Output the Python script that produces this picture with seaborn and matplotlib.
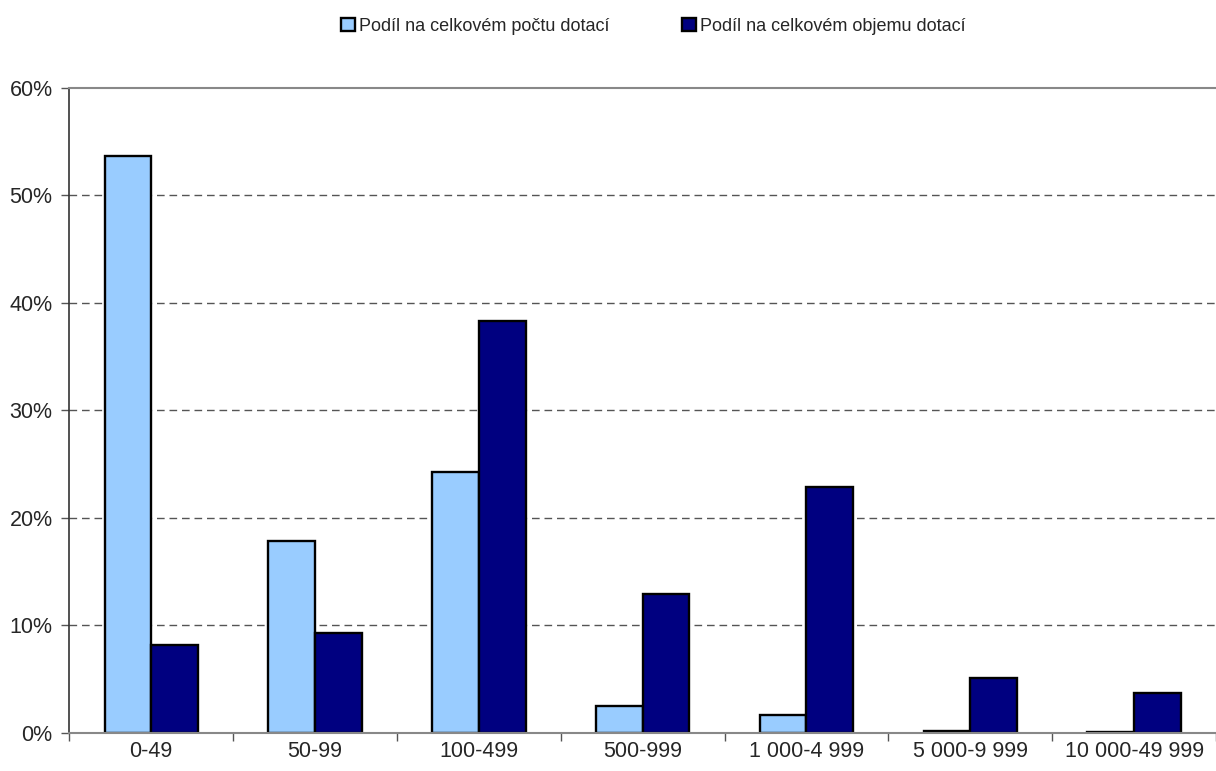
import matplotlib.pyplot as plt
import matplotlib.ticker as mtick
import seaborn as sns
import pandas as pd
import numpy as np

categories = ['0-49', '50-99', '100-499', '500-999', '1 000-4 999', '5 000-9 999', '10 000-49 999']
share_count = [0.537, 0.179, 0.243, 0.025, 0.017, 0.002, 0.001]
share_volume = [0.082, 0.093, 0.383, 0.129, 0.229, 0.051, 0.037]
series_names = ['Podíl na celkovém počtu dotací', 'Podíl na celkovém objemu dotací']
colors = ['#99CCFF', '#000080']

df = pd.DataFrame({
    'kategorie': categories * 2,
    'podil': share_count + share_volume,
    'serie': [series_names[0]] * len(categories) + [series_names[1]] * len(categories),
})

sns.set_style('white')
plt.rcParams['font.family'] = ['Liberation Sans', 'DejaVu Sans']

fig = plt.figure(figsize=(12.16, 7.71), dpi=100)
ax = fig.add_axes([0.057, 0.0493, 0.943, 0.8367])

sns.barplot(data=df, x='kategorie', y='podil', hue='serie', palette=colors, saturation=1,
            width=0.57, edgecolor='black', linewidth=1.7, ax=ax, legend=True)

ax.set_ylim(0, 0.6)
ax.set_xlim(-0.5, len(categories) - 0.5)
ax.yaxis.set_major_locator(mtick.MultipleLocator(0.1))
ax.yaxis.set_major_formatter(mtick.PercentFormatter(1.0, decimals=0))
for v in np.arange(0.1, 0.55, 0.1):
    ax.axhline(v, color='#555555', lw=1, ls=(0, (5.5, 3.5)), zorder=0)

ax.set_xlabel('')
ax.set_ylabel('')
ax.set_xticks(np.arange(-0.5, len(categories), 1.0), minor=True)
ax.tick_params(axis='x', which='major', length=0, pad=6, labelsize=15.5)
ax.tick_params(axis='x', which='minor', length=6, width=1, color='#555555', direction='out')
ax.tick_params(axis='y', length=6, width=1, color='#555555', direction='out', pad=6, labelsize=15.5)
ax.tick_params(bottom=True, left=True, which='both')

for side in ['top', 'bottom']:
    ax.spines[side].set_color('#888888')
    ax.spines[side].set_linewidth(1.5)
ax.spines['left'].set_color('#333333')
ax.spines['left'].set_linewidth(1.2)
ax.spines['right'].set_visible(False)

handles, labels = ax.get_legend_handles_labels()
ax.legend_.remove()
fig.legend(handles, labels, loc='center', bbox_to_anchor=(0.537, 0.966), ncol=2,
           frameon=False, fontsize=13, handlelength=0.8, handleheight=0.8,
           handletextpad=0.2, columnspacing=4.0)

fig.savefig('out.png', dpi=100)
